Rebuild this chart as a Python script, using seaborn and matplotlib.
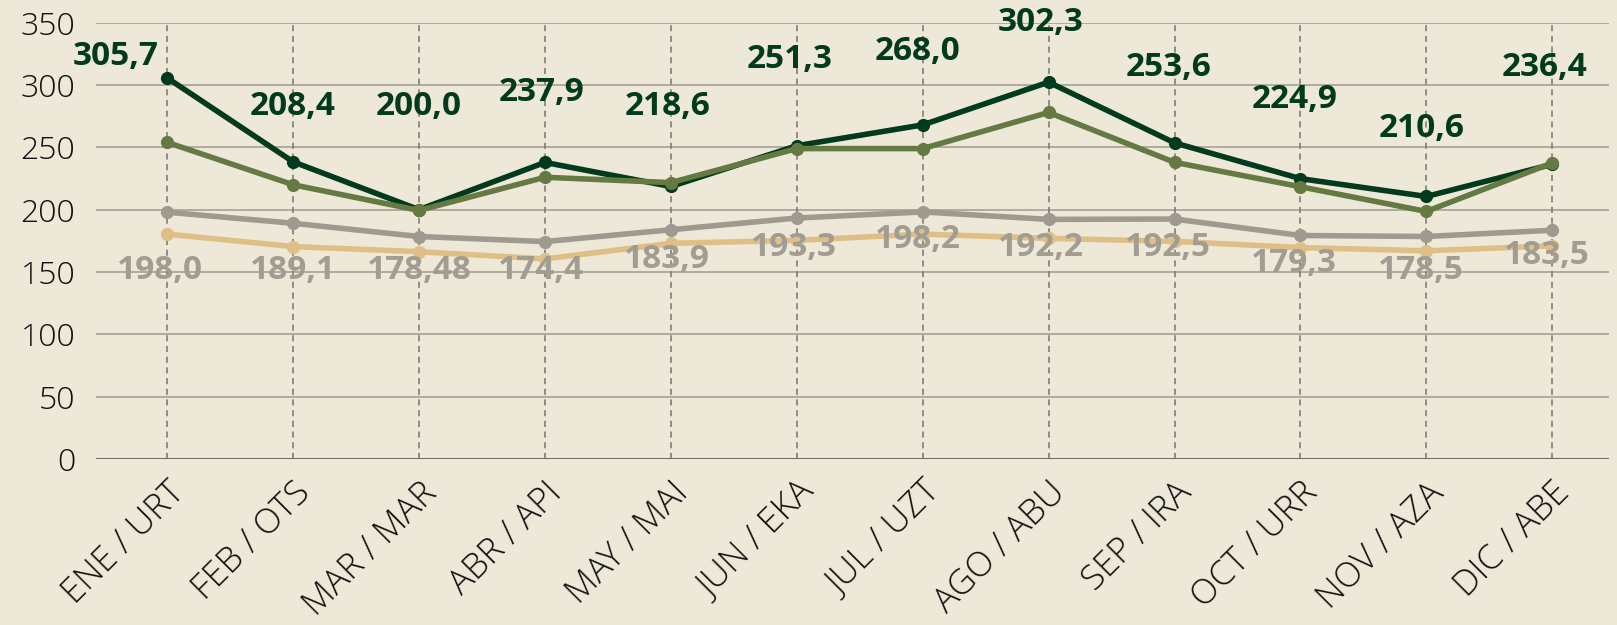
import pandas as pd
import matplotlib
matplotlib.use("Agg")
import matplotlib.pyplot as plt
import seaborn as sns

months = ["ENE / URT", "FEB / OTS", "MAR / MAR", "ABR / API", "MAY / MAI", "JUN / EKA",
          "JUL / UZT", "AGO / ABU", "SEP / IRA", "OCT / URR", "NOV / AZA", "DIC / ABE"]

dark = [305.7, 238.4, 200.0, 237.9, 218.6, 251.3, 268.0, 302.3, 253.6, 224.9, 210.6, 236.4]
olive = [254.0, 220.0, 199.4, 226.0, 221.7, 249.0, 249.0, 278.0, 238.0, 218.4, 198.6, 237.5]
grey = [198.0, 189.1, 178.48, 174.4, 183.9, 193.3, 198.2, 192.2, 192.5, 179.3, 178.5, 183.5]
tan = [180.4, 170.4, 166.3, 160.5, 173.0, 175.4, 180.4, 177.0, 174.6, 169.6, 167.0, 171.0]

dark_labels = ["305,7", "208,4", "200,0", "237,9", "218,6", "251,3",
               "268,0", "302,3", "253,6", "224,9", "210,6", "236,4"]
grey_labels = ["198,0", "189,1", "178,48", "174,4", "183,9", "193,3",
               "198,2", "192,2", "192,5", "179,3", "178,5", "183,5"]

# where the value labels sit (data units)
dark_label_y = [322.7, 283, 283, 293.7, 283, 320.8, 326.6, 350, 314.4, 288.7, 265.5, 314.4]
dark_label_dx = [-0.41, 0, 0, -0.03, -0.03, -0.06, -0.04, -0.06, -0.05, -0.05, -0.04, -0.06]
grey_label_y = [151.4, 151.4, 151.4, 151.4, 159.7, 169.6, 176.2, 169.6, 169.6, 157.2, 151.4, 163.0]
grey_label_dx = [-0.06, 0, 0, -0.03, -0.03, -0.02, -0.04, -0.06, -0.05, -0.05, -0.04, -0.04]

colors = {"tan": "#dfbf85", "grey": "#9e9a90", "dark": "#013a1d", "olive": "#647a42"}

df = pd.DataFrame({
    "mes": months * 4,
    "valor": tan + grey + dark + olive,
    "serie": ["tan"] * 12 + ["grey"] * 12 + ["dark"] * 12 + ["olive"] * 12,
})

bg = "#eee8d9"
fig = plt.figure(figsize=(16.17, 6.25), dpi=100, facecolor=bg)
ax = fig.add_axes([0.0594, 0.2656, 0.9356, 0.6981], facecolor=bg)

sns.lineplot(data=df, x="mes", y="valor", hue="serie", palette=colors, sort=False,
             marker="o", markersize=9.5, markeredgewidth=0, linewidth=4,
             legend=False, ax=ax, zorder=3)

ax.set_ylim(0, 350)
ax.set_xlim(-0.565, 11.45)
ax.set_yticks(range(0, 351, 50))
ax.set_xlabel("")
ax.set_ylabel("")

ax.grid(False)
for v in range(50, 351, 50):
    ax.axhline(v, color="#aaa69c", lw=1.3, zorder=1)
for i in range(len(months)):
    ax.axvline(i, color="#77756f", lw=1.1, ls=(0, (4, 3)), zorder=1)
ax.axhline(0, color="#6f6c66", lw=2.2, zorder=2)

for s in ax.spines.values():
    s.set_visible(False)
ax.tick_params(length=0)
ax.tick_params(axis="y", labelsize=23, labelcolor="#111111", pad=15)
ax.set_xticks(range(len(months)))
ax.set_xticklabels(months, rotation=45, ha="right", rotation_mode="anchor",
                   fontsize=25, color="#111111")
ax.tick_params(axis="x", pad=12)
for lab in ax.get_xticklabels() + ax.get_yticklabels():
    lab.set_fontfamily("Open Sans")
    lab.set_fontweight("light")

for i in range(len(months)):
    ax.text(i + dark_label_dx[i], dark_label_y[i], dark_labels[i], ha="center", va="center",
            fontsize=24, fontweight="bold", color=colors["dark"], family="Open Sans",
            zorder=6, clip_on=False)
    ax.text(i + grey_label_dx[i], grey_label_y[i], grey_labels[i], ha="center", va="center",
            fontsize=24, fontweight="bold", color="#a19d93", family="Open Sans",
            zorder=6, clip_on=False)

fig.savefig("out.png", dpi=100, facecolor=bg)
